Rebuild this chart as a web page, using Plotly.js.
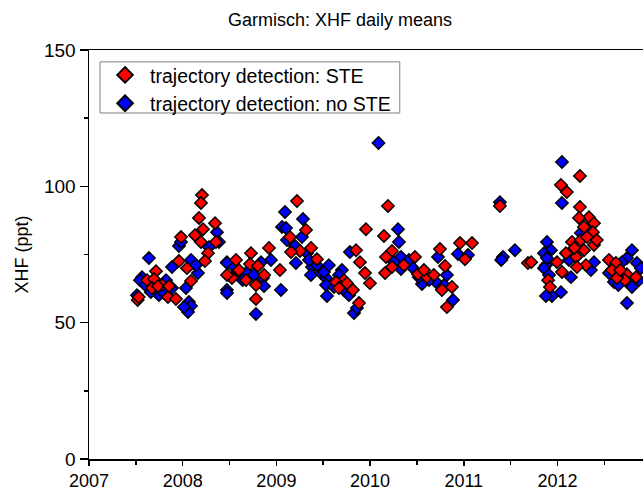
<!DOCTYPE html>
<html>
<head>
<meta charset="utf-8">
<script src="https://cdn.plot.ly/plotly-3.0.1.min.js"></script>
<style>html,body{margin:0;padding:0;background:#fff;overflow:hidden}</style>
</head>
<body>
<div id="chart" style="width:643px;height:491px"></div>
<script>
// STE (red) daily means: decimal year, XHF (ppt)
const steYear = [
 2007.52,2007.53,2008.206,2008.195,2008.174,2008.345,2008.217,2008.131,2008.195,2008.355,
 2007.982,2008.27,2008.238,2007.96,2008.046,2007.715,2007.619,2007.694,2007.78,2007.672,
 2007.736,2008.089,2007.843,2007.928,2007.854,
 2008.569,2008.729,2008.718,2008.804,2008.526,2008.676,2008.782,2009.038,2008.921,2008.782,
 2008.473,2008.6,2008.87,
 2009.22,2009.316,2009.145,2009.252,2009.156,2009.433,2009.37,
 2009.956,2010.148,2009.85,2009.892,2009.946,2009.999,2009.817,2009.721,2009.882,2009.636,
 2009.668,2009.753,
 2010.191,2010.234,2010.17,2010.234,2010.16,2010.479,2010.511,2010.607,2010.746,2010.8,
 2010.767,2010.874,2010.82,2010.96,2011.088,2011.013,2010.575,2010.36,2010.68,
 2011.386,2011.685,2011.72,
 2012.24,2012.037,2012.1,2012.24,2012.336,2012.23,2012.39,2012.283,2012.379,2012.155,
 2012.25,2012.315,2012.39,2012.283,2012.2,2012.304,2012.208,2012.09,2012.048,2011.9,
 2011.92,2012.18,2012.42,2011.995,
 2012.55,2012.624,2012.58,2012.74,2012.838,2012.72,2012.635,2012.67
];
const steXhf = [
 58.3,59.4,96.8,93.9,88.4,86.5,84.3,82.1,79.6,79.6,
 81.4,75.5,72.6,72.6,70,68.9,65.6,66,63.8,62.7,
 63.4,65.3,59.4,58.7,63.4,
 73,75.5,71.5,70.8,66.4,65.6,63.8,69.3,77.4,58.7,
 67.5,69.3,67.5,
 94.6,84,81.4,76.3,75.9,73.3,77.4,
 84.3,81.8,76.6,72.2,68.2,64.5,62,65.6,57.2,64.9,
 62.7,64.5,
 92.8,76.3,74.1,70.4,68.2,74.1,67.8,66.7,77,70.8,
 62,63.1,55.7,79.2,79.2,73.3,69.3,71.1,67.5,
 92.8,71.9,72.2,
 103.8,100.5,97.9,92.4,88.7,88.4,86.5,85.1,83.2,79.6,
 80.3,81.4,78.5,76.6,74.1,71.1,70.4,75.5,68.6,65.6,
 63.1,77.4,80.3,72.2,
 73,71.9,69.3,67.8,66.7,65.6,66.4,69.3
];
// no STE (blue) daily means
const noSteYear = [
 2007.64,2007.96,2007.982,2008.089,2007.886,2008.163,2008.142,2007.566,2007.544,2007.822,
 2007.886,2008.035,2007.747,2007.512,2008.067,2008.089,2008.057,2008.014,2008.366,2008.387,
 2008.472,2008.472,2008.28,2007.6,2007.66,2007.8,
 2008.473,2008.473,2008.782,2009.049,2008.942,2008.857,2008.868,2008.622,2008.548,2008.686,
 2008.836,2008.64,2008.76,
 2009.092,2009.284,2009.06,2009.102,2009.273,2009.113,2009.209,2009.327,2009.38,2009.369,
 2009.476,2009.433,2009.2,2009.348,2009.53,
 2009.785,2009.7,2009.53,2009.54,2009.828,2009.668,2009.615,2009.508,2009.56,2009.72,
 2009.775,2009.86,
 2010.09,2010.298,2010.308,2010.33,2010.33,2010.447,2010.554,2010.703,2010.725,2010.82,
 2010.885,2010.938,2011.045,2010.415,2010.63,2010.79,2010.255,2010.52,
 2011.386,2011.418,2011.4,2011.546,
 2012.048,2012.048,2011.888,2011.93,2011.856,2011.877,2011.856,2012.144,2012.037,2011.941,
 2011.877,2012.25,2012.357,2012.39,2012.123,2011.888,2011.91,
 2012.795,2012.742,2012.848,2012.688,2012.603,2012.795,2012.87,2012.742,2012.55,2012.65,2012.89
];
const noSteXhf = [
 73.7,78.1,79.6,73,70.4,68.2,71.1,66.7,65.6,65.6,
 62.7,62.7,60.1,60.1,57.6,56.1,53.9,55.7,83.2,79.6,
 72.2,62,77.7,63.8,61.2,60.9,
 71.9,60.9,53.2,62,73,66.4,63.4,68.2,70.4,68.6,
 72.2,65.6,67.5,
 90.6,88,85.1,84.7,81.4,80.3,71.9,75.5,70.4,67.5,
 68.2,71.1,78.1,73,66.4,
 75.9,69.3,63.8,59.8,53.5,67.5,63.1,68.6,71.1,62,
 60.1,55.4,
 115.9,84.3,79.6,74.1,69.7,70.4,64.2,64.9,74.1,67.5,
 58.3,75.2,74.8,73,65.6,63.8,72.2,66.7,
 94.2,74.1,73,76.6,
 108.9,93.9,79.6,76.6,75.5,71.1,70,66.7,61.2,59.8,
 59.8,82.9,69.3,72.2,73,73.7,67.5,
 76.6,73.7,71.9,72.2,64.9,63.1,65.6,57.2,68.2,63.8,70
];
const xTickVals = [2007, 2008, 2009, 2010, 2011, 2012];
const xTickText = ['2007', '2008', '2009', '2010', '2011', '2012'];
const xMinorVals = [2007.5, 2008.5, 2009.5, 2010.5, 2011.5, 2012.5];
const yTickVals = [0, 50, 100, 150];
const yMinorVals = [25, 75, 125];
const seriesNames = ['trajectory detection: STE', 'trajectory detection: no STE'];

const FONT = 'Arial, "Liberation Sans", sans-serif';
const markerBase = {symbol: 'diamond', size: 9.5, line: {color: '#000', width: 1.5}};

const traces = [
  {x: noSteYear, y: noSteXhf, type: 'scatter', mode: 'markers', name: seriesNames[1],
   marker: Object.assign({}, markerBase, {color: '#0000ff'})},
  {x: steYear, y: steXhf, type: 'scatter', mode: 'markers', name: seriesNames[0],
   marker: Object.assign({}, markerBase, {color: '#ff0000'})}
];

const layout = {
  width: 643, height: 491,
  margin: {l: 89, r: 0, t: 50, b: 32, pad: 0},
  paper_bgcolor: '#fff', plot_bgcolor: '#fff',
  font: {family: FONT, size: 19, color: '#000'},
  title: {text: 'Garmisch: XHF daily means', font: {family: FONT, size: 18, color: '#000'},
          x: 0.453, xref: 'paper', xanchor: 'center', y: 0.972, yref: 'container'},
  showlegend: true,
  legend: {x: 0.02, y: 0.986, xanchor: 'left', yanchor: 'top', traceorder: 'reversed',
           borderwidth: 0, bgcolor: 'rgba(0,0,0,0)',
           font: {family: FONT, size: 19.5, color: '#000'}, itemsizing: 'constant',
           itemwidth: 40, tracegroupgap: 0},
  shapes: [{type: 'rect', xref: 'paper', yref: 'paper', x0: 0.0199, x1: 0.561, y0: 0.846, y1: 0.971,
            line: {color: '#808080', width: 1}, fillcolor: 'rgba(0,0,0,0)', layer: 'below'}],
  xaxis: {range: [2007, 2012.913], tickmode: 'array', tickvals: xTickVals, ticktext: xTickText,
          ticks: 'outside', ticklen: 5, tickwidth: 1.5, tickcolor: '#000',
          showline: true, linecolor: '#000', linewidth: 1.5, mirror: true,
          showgrid: false, zeroline: false, tickfont: {family: FONT, size: 18},
          minor: {tickmode: 'array', tickvals: xMinorVals, ticks: 'outside', ticklen: 4, tickwidth: 1.5, tickcolor: '#000', showgrid: false}},
  yaxis: {range: [0, 150], tickmode: 'array', tickvals: yTickVals,
          ticks: 'outside', ticklen: 8, tickwidth: 1.5, tickcolor: '#000',
          showline: true, linecolor: '#000', linewidth: 1.5, mirror: false,
          showgrid: false, zeroline: false, tickfont: {family: FONT, size: 19},
          title: {text: 'XHF (ppt)', font: {family: FONT, size: 18}, standoff: 10},
          minor: {tickmode: 'array', tickvals: yMinorVals, ticks: 'outside', ticklen: 4, tickwidth: 1.5, tickcolor: '#000', showgrid: false}}
};

Plotly.newPlot('chart', traces, layout, {displayModeBar: false, staticPlot: true});
</script>
</body>
</html>
